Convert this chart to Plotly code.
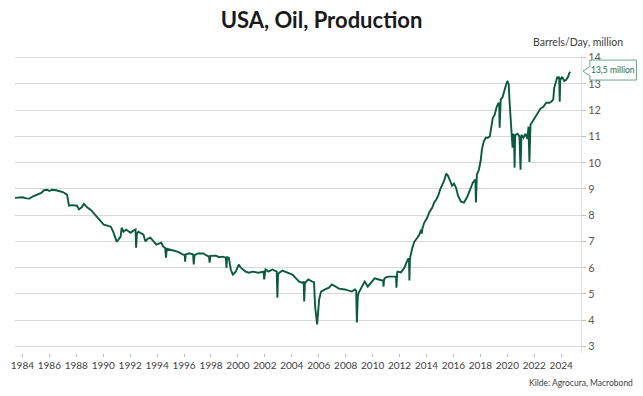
import plotly.graph_objects as go

# decimal years and production values (million barrels/day)
years = [
    1983.45, 1983.63, 1984.0, 1984.3, 1984.52, 1984.8, 1985.1, 1985.4, 1985.6, 1985.84,
    1986.0, 1986.2, 1986.5, 1986.73, 1987.0, 1987.31, 1987.38, 1987.46, 1987.7, 1988.05,
    1988.2, 1988.4, 1988.57, 1988.8, 1989.08, 1989.4, 1989.6, 1989.82, 1990.04, 1990.3,
    1990.56, 1990.75, 1990.92, 1991.0, 1991.1, 1991.29, 1991.37, 1991.51, 1991.7, 1992.03,
    1992.2, 1992.4, 1992.44, 1992.5, 1992.62, 1992.99, 1993.13, 1993.3, 1993.5, 1993.94,
    1994.31, 1994.46, 1994.6, 1994.66, 1994.72, 1995.2, 1995.57, 1995.93, 1996.05, 1996.08,
    1996.12, 1996.4, 1996.67, 1996.72, 1996.78, 1997.04, 1997.41, 1997.85, 1997.9, 1997.95,
    1998.36, 1998.6, 1998.88, 1999.1, 1999.15, 1999.2, 1999.32, 1999.47, 1999.62, 1999.84,
    2000.06, 2000.21, 2000.57, 2000.8, 2001.09, 2001.53, 2001.9, 2001.95, 2002.0, 2002.05,
    2002.27, 2002.56, 2002.88, 2002.93, 2002.98, 2003.08, 2003.30, 2003.52, 2003.82, 2004.04,
    2004.26, 2004.55, 2004.77, 2004.88, 2004.92, 2004.97, 2005.07, 2005.22, 2005.51, 2005.65,
    2005.73, 2005.88, 2006.03, 2006.17, 2006.47, 2006.76, 2006.98, 2007.28, 2007.5, 2007.94,
    2008.46, 2008.68, 2008.78, 2008.83, 2008.9, 2008.97, 2009.12, 2009.34, 2009.41, 2009.64,
    2009.86, 2010.15, 2010.45, 2010.67, 2010.78, 2010.81, 2010.85, 2010.96, 2011.18, 2011.4,
    2011.7, 2011.74, 2011.77, 2011.82, 2011.85, 2012.1, 2012.36, 2012.51, 2012.66, 2012.70,
    2012.73, 2012.77, 2012.80, 2012.95, 2013.10, 2013.32, 2013.47, 2013.61, 2013.65, 2013.7,
    2013.83, 2014.05, 2014.20, 2014.42, 2014.57, 2014.72, 2014.87, 2015.01, 2015.16, 2015.31,
    2015.46, 2015.60, 2015.75, 2015.90, 2016.04, 2016.19, 2016.34, 2016.56, 2016.78, 2017.0,
    2017.15, 2017.30, 2017.44, 2017.59, 2017.63, 2017.67, 2017.71, 2017.74, 2017.89, 2018.03,
    2018.11, 2018.25, 2018.40, 2018.55, 2018.70, 2018.77, 2018.92, 2019.06, 2019.21, 2019.36,
    2019.40, 2019.43, 2019.47, 2019.51, 2019.65, 2019.80, 2019.95, 2020.02, 2020.10, 2020.17,
    2020.24, 2020.31, 2020.36, 2020.39, 2020.43, 2020.46, 2020.50, 2020.54, 2020.58, 2020.61,
    2020.76, 2020.90, 2020.98, 2021.05, 2021.20, 2021.35, 2021.50, 2021.57, 2021.64, 2021.72,
    2021.86, 2022.08, 2022.31, 2022.45, 2022.67, 2022.89, 2023.12, 2023.26, 2023.41, 2023.48,
    2023.63, 2023.71, 2023.78, 2023.85, 2023.89, 2023.93, 2024.07, 2024.22, 2024.36, 2024.51,
    2024.58, 2024.66,
]

production = [
    8.66, 8.67, 8.68, 8.64, 8.63, 8.72, 8.78, 8.85, 8.95, 8.97,
    8.92, 8.97, 8.95, 8.93, 8.88, 8.78, 8.55, 8.36, 8.38, 8.36,
    8.22, 8.30, 8.43, 8.30, 8.20, 8.00, 7.90, 7.75, 7.64, 7.60,
    7.56, 7.35, 7.14, 6.99, 7.05, 7.18, 7.52, 7.37, 7.45, 7.33,
    7.40, 7.45, 6.76, 7.30, 7.37, 7.26, 7.00, 7.10, 7.14, 6.88,
    6.95, 6.80, 6.75, 6.38, 6.72, 6.65, 6.60, 6.50, 6.48, 6.23,
    6.50, 6.55, 6.50, 6.12, 6.48, 6.54, 6.54, 6.42, 6.19, 6.45,
    6.46, 6.40, 6.42, 6.38, 6.00, 6.40, 6.38, 5.93, 5.74, 5.85,
    6.12, 6.00, 5.85, 5.81, 5.85, 5.81, 5.85, 5.55, 5.88, 5.93,
    5.85, 5.93, 5.85, 4.86, 5.75, 5.81, 5.89, 5.85, 5.81, 5.74,
    5.62, 5.47, 5.43, 5.45, 4.71, 5.40, 5.47, 5.55, 5.47, 5.45,
    4.52, 3.84, 4.79, 5.09, 5.17, 5.24, 5.36, 5.28, 5.20, 5.17,
    5.09, 5.17, 5.12, 3.91, 4.90, 5.05, 5.20, 5.36, 5.47, 5.28,
    5.43, 5.59, 5.55, 5.51, 5.50, 5.28, 5.55, 5.62, 5.66, 5.66,
    5.66, 5.62, 5.24, 5.80, 5.85, 5.82, 6.00, 6.19, 6.35, 6.30,
    5.51, 6.30, 6.42, 6.76, 6.99, 7.14, 7.26, 7.45, 7.30, 7.50,
    7.71, 7.90, 8.10, 8.28, 8.48, 8.59, 8.74, 8.97, 9.16, 9.31,
    9.58, 9.50, 9.31, 9.12, 9.20, 9.05, 8.74, 8.51, 8.48, 8.67,
    8.86, 9.08, 9.24, 9.35, 9.30, 8.48, 9.40, 9.54, 9.73, 10.10,
    10.49, 10.80, 10.95, 10.95, 11.00, 11.25, 11.70, 11.82, 12.13, 12.28,
    12.20, 11.33, 12.20, 12.40, 12.50, 12.81, 13.04, 13.08, 13.00, 12.28,
    11.75, 11.14, 11.00, 10.57, 11.10, 11.06, 10.90, 9.81, 11.00, 11.06,
    11.10, 11.00, 9.73, 11.06, 10.95, 11.10, 10.90, 11.37, 10.03, 11.44,
    11.56, 11.75, 11.94, 12.05, 12.13, 12.28, 12.28, 12.32, 12.40, 12.85,
    13.11, 13.27, 13.23, 13.27, 12.32, 13.15, 13.27, 13.11, 13.15, 13.27,
    13.38, 13.46,
]

tick_years = list(range(1984, 2025, 2))
tick_labels = [str(y) for y in tick_years]
y_ticks = list(range(3, 15))

title_text = "USA, Oil, Production"
unit_text = "Barrels/Day, million"
source_text = "Kilde: Agrocura, Macrobond"
callout_text = "13,5 million"

GREEN = "#0a5a3e"
FONT = "Lato"

fig = go.Figure()
fig.add_trace(go.Scatter(
    x=years, y=production, mode="lines",
    line=dict(color=GREEN, width=1.9),
    hoverinfo="skip", showlegend=False,
))

fig.update_layout(
    width=643, height=396,
    margin=dict(l=11, r=62, t=55, b=43),
    paper_bgcolor="white", plot_bgcolor="white",
    font=dict(family=FONT, color="#404040"),
    title=dict(text="<b>" + title_text + "</b>", x=0.5, xref="container", xanchor="center",
               y=0.948, yref="container", yanchor="middle",
               font=dict(family=FONT, size=22, color="#1a1a1a")),
    xaxis=dict(range=[1983.45, 2025.47], tickvals=tick_years, ticktext=tick_labels,
               showgrid=False, showline=False, zeroline=False,
               ticks="outside", ticklen=3, tickcolor="#bfbfbf",
               tickfont=dict(size=10, color="#404040", family=FONT)),
    yaxis=dict(range=[2.75, 14.1], side="right", tickvals=y_ticks,
               showgrid=True, gridcolor="#d9d9d9", gridwidth=1,
               showline=True, linecolor="#e0e0e0", zeroline=False,
               ticks="outside", ticklen=4, tickcolor="#bfbfbf",
               tickfont=dict(size=11, color="#595959", family=FONT)),
)

fig.add_annotation(text=unit_text, xref="paper", yref="paper", x=1.077, y=1.044,
                   xanchor="right", yanchor="middle", showarrow=False,
                   font=dict(size=10.5, color="#404040", family=FONT))
fig.add_annotation(text=source_text, xref="paper", yref="paper", x=1.095, y=-0.1007,
                   xanchor="right", yanchor="middle", showarrow=False,
                   font=dict(size=8.5, color="#404040", family=FONT))

# callout box with notch
fig.add_shape(type="path", xref="paper", yref="paper",
              path="M 1.0158,0.983 L 1.098,0.983 L 1.098,0.916 L 1.0158,0.916 "
                   "L 1.0158,0.930 L 1.0035,0.946 L 1.0158,0.962 Z",
              line=dict(color="#6aa88c", width=1), fillcolor="white", layer="above")
fig.add_annotation(text=callout_text, xref="paper", yref="paper", x=1.057, y=0.9497,
                   xanchor="center", yanchor="middle", showarrow=False,
                   font=dict(size=8.5, color="#1e6b4e", family=FONT))

fig.write_html("out.html", config={"displayModeBar": False},
               post_script="document.body.style.margin='0';")
